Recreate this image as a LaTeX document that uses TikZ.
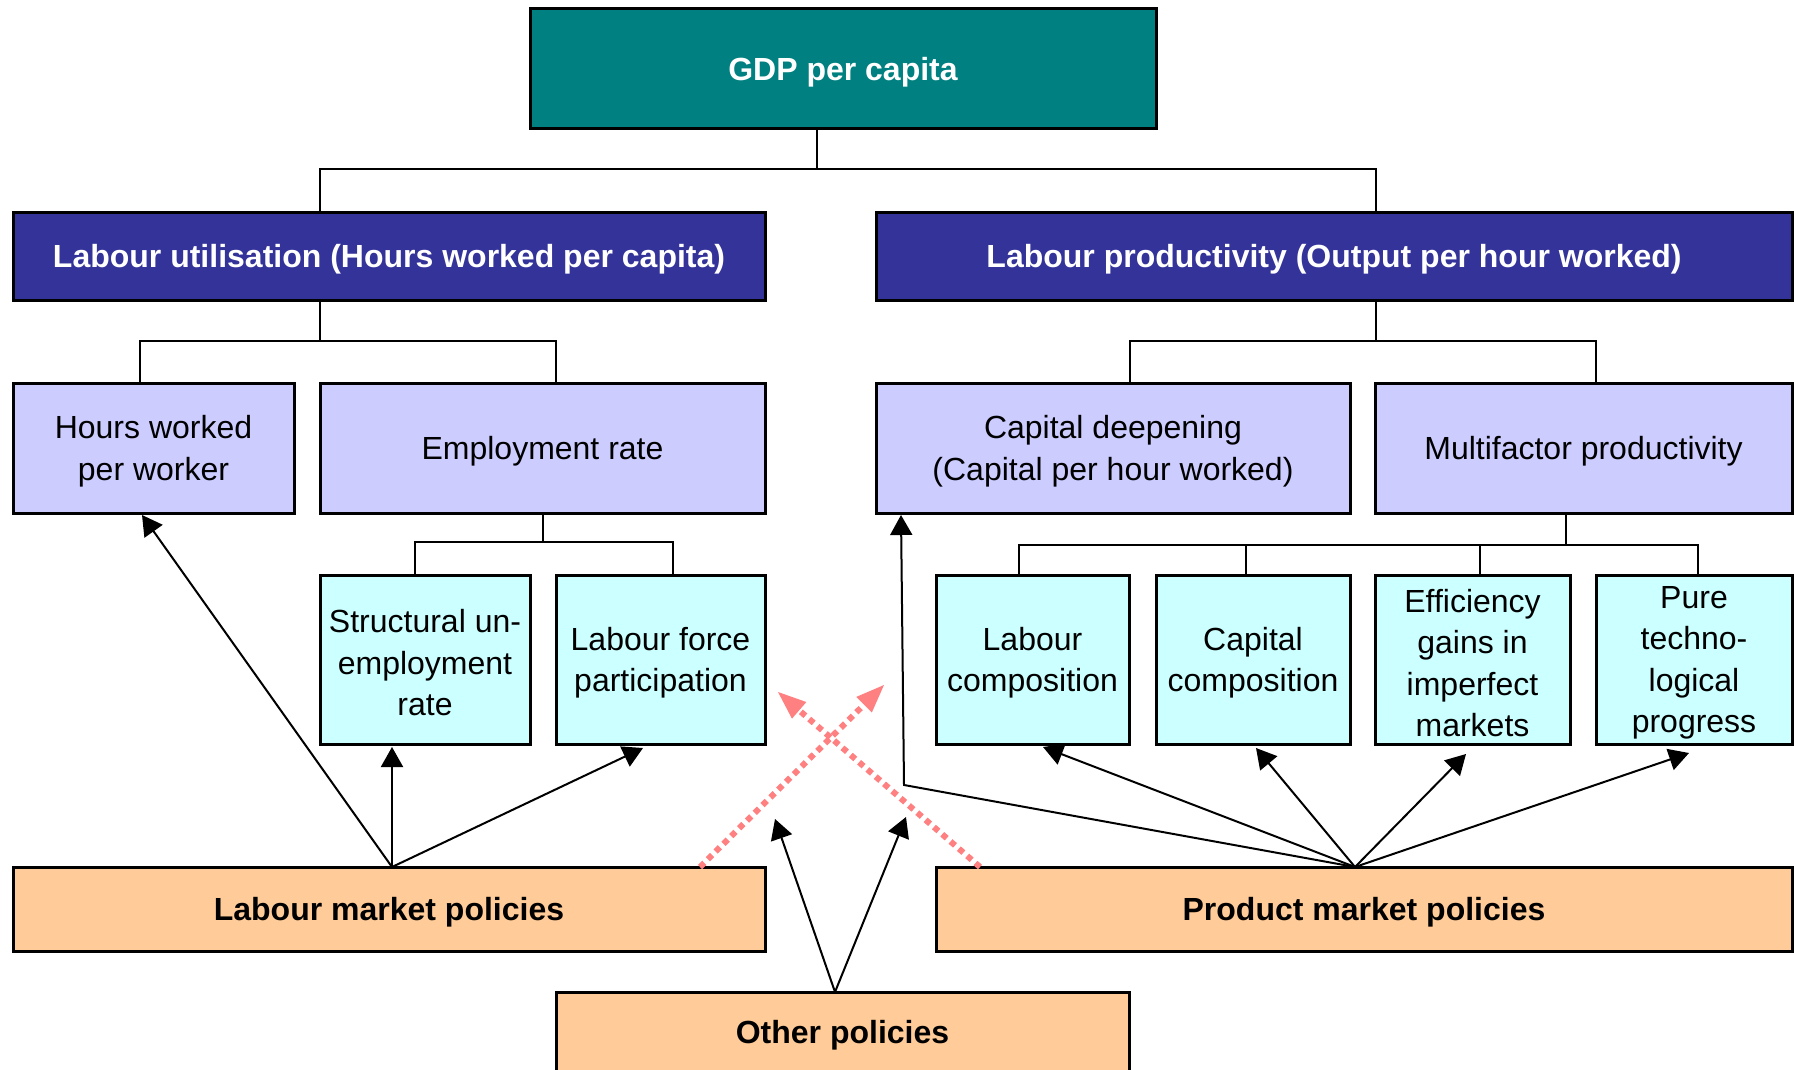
\documentclass[tikz,border=0pt]{standalone}
\usepackage{fontspec}
\setmainfont{Liberation Sans}
\usetikzlibrary{arrows.meta}
\definecolor{teal}{HTML}{008080}
\definecolor{navy}{HTML}{333399}
\definecolor{lilac}{HTML}{CCCCFF}
\definecolor{lcyan}{HTML}{CCFFFF}
\definecolor{peach}{HTML}{FFCC99}
\definecolor{pink}{HTML}{FF8080}
\begin{document}
\begin{tikzpicture}[x=0.5pt,y=-0.5pt,
  base/.style={draw=black, line width=1.5pt, inner sep=0pt, outer sep=0pt},
  txt/.style={align=center, inner sep=0pt, yshift=-1.7pt,
    font=\fontsize{16pt}{20.7pt}\selectfont},
  btxt/.style={txt, font=\fontsize{16pt}{20.7pt}\selectfont\bfseries},
  wtxt/.style={btxt, text=white},
  topbox/.style={base, fill=teal},
  midbox/.style={base, fill=navy},
  lilbox/.style={base, fill=lilac},
  cyanbox/.style={base, fill=lcyan},
  polbox/.style={base, fill=peach},
  conn/.style={line width=1pt},
  arr/.style={line width=1pt, -{Triangle[length=10pt,width=11pt]}},
  redarr/.style={pink, line width=3pt, dash pattern=on 3pt off 2.5pt,
    -{Triangle[length=14pt,width=11pt,fill=pink,line width=0pt]}}]
\useasboundingbox (0,0) rectangle (1794,1070);

% boxes
\node[topbox, minimum width=313pt, minimum height=60pt,
  label={[wtxt]center:GDP per capita}] (gdp) at (843,69) {};
\node[midbox, minimum width=376pt, minimum height=44pt,
  label={[wtxt]center:Labour utilisation (Hours worked per capita)}] (lu) at (389,256) {};
\node[midbox, minimum width=458pt, minimum height=44pt,
  label={[wtxt]center:Labour productivity (Output per hour worked)}] (lp) at (1334,256) {};
\node[lilbox, minimum width=140.5pt, minimum height=65pt,
  label={[txt]center:Hours worked\\per worker}] (hw) at (153.5,448) {};
\node[lilbox, minimum width=222.5pt, minimum height=65pt,
  label={[txt]center:Employment rate}] (er) at (542.5,448) {};
\node[lilbox, minimum width=237pt, minimum height=65pt,
  label={[txt]center:Capital deepening\\(Capital per hour worked)}] (cd) at (1113,448) {};
\node[lilbox, minimum width=208.5pt, minimum height=65pt,
  label={[txt]center:Multifactor productivity}] (mfp) at (1583.5,448) {};
\node[cyanbox, minimum width=105pt, minimum height=84.5pt,
  label={[txt]center:Structural un-\\employment\\rate}] (su) at (425,659.5) {};
\node[cyanbox, minimum width=104.5pt, minimum height=84.5pt,
  label={[txt]center:Labour force\\participation}] (lf) at (660.5,659.5) {};
\node[cyanbox, minimum width=96.5pt, minimum height=84.5pt,
  label={[txt]center:Labour\\composition}] (lc) at (1032.5,659.5) {};
\node[cyanbox, minimum width=97pt, minimum height=84.5pt,
  label={[txt]center:Capital\\composition}] (cc) at (1253,659.5) {};
\node[cyanbox, minimum width=97.5pt, minimum height=84.5pt,
  label={[txt]center:Efficiency\\gains in\\imperfect\\markets}] (eg) at (1472.5,659.5) {};
\node[cyanbox, minimum width=98pt, minimum height=84.5pt,
  label={[txt]center:Pure\\techno-\\logical\\progress}] (pt) at (1694,659.5) {};
\node[polbox, minimum width=376pt, minimum height=42pt,
  label={[btxt]center:Labour market policies}] (lmp) at (389,909) {};
\node[polbox, minimum width=428pt, minimum height=42pt,
  label={[btxt]center:Product market policies}] (pmp) at (1364,909) {};
\node[polbox, minimum width=286.5pt, minimum height=40pt,
  label={[btxt]center:Other policies}] (op) at (842.5,1032) {};

% tree connectors
\coordinate (j0) at (817,169);
\draw[conn] (gdp.south -| j0) -- (j0);
\draw[conn] ([xshift=-34.5pt]lu.north) |- (j0) -| ([xshift=21pt]lp.north);
\coordinate (j1) at (320,341);
\draw[conn] (lu.south -| j1) -- (j1);
\draw[conn] ([xshift=-6.75pt]hw.north) |- (j1) -| ([xshift=6.75pt]er.north);
\coordinate (j2) at (1376,341);
\draw[conn] (lp.south -| j2) -- (j2);
\draw[conn] ([xshift=8.5pt]cd.north) |- (j2) -| ([xshift=6.25pt]mfp.north);
\coordinate (j3) at (542.5,542);
\draw[conn] (er.south) -- (j3);
\draw[conn] ([xshift=-5pt]su.north) |- (j3) -| ([xshift=6.25pt]lf.north);
\coordinate (j4) at (1566,545);
\draw[conn] (mfp.south -| j4) -- (j4);
\draw[conn] ([xshift=-6.75pt]lc.north) |- (j4) -| ([xshift=2pt]pt.north);
\draw[conn] ([xshift=-3.5pt]cc.north) -- ([xshift=-3.5pt]cc.north |- j4);
\draw[conn] ([xshift=3.75pt]eg.north) -- ([xshift=3.75pt]eg.north |- j4);

% red dotted arrows
\coordinate (rt1) at (884,685);
\coordinate (rt2) at (778,692);
\draw[redarr] ([xshift=155.5pt]lmp.north) -- (rt1);
\draw[redarr] ([xshift=-192pt]pmp.north) -- (rt2);

% labour market policy arrows
\coordinate (lmpt) at ([xshift=1.5pt]lmp.north);
\draw[arr] (lmpt) -- ([xshift=-5.75pt,yshift=-1pt]hw.south);
\draw[arr] (lmpt) -- ([yshift=-1.5pt]su.south -| lmpt);
\draw[arr] (lmpt) -- ([xshift=-8.75pt,yshift=-2pt]lf.south);

% other policies arrows
\coordinate (opt) at ([xshift=-3.75pt]op.north);
\coordinate (ot1) at (775,819);
\coordinate (ot2) at (906,817);
\draw[arr] (opt) -- (ot1);
\draw[arr] (opt) -- (ot2);

% product market policy arrows
\coordinate (pmpt) at ([xshift=-4.5pt]pmp.north);
\coordinate (bend) at (904,785);
\draw[arr] (pmpt) -- (bend) -- ([xshift=-106pt,yshift=-1pt]cd.south);
\draw[arr] (pmpt) -- ([xshift=5.25pt,yshift=-1.5pt]lc.south);
\draw[arr] (pmpt) -- ([xshift=1.5pt,yshift=-2pt]cc.south);
\draw[arr] (pmpt) -- ([xshift=-3.25pt,yshift=-5pt]eg.south);
\draw[arr] (pmpt) -- ([xshift=-2.5pt,yshift=-4.5pt]pt.south);
\end{tikzpicture}
\end{document}
